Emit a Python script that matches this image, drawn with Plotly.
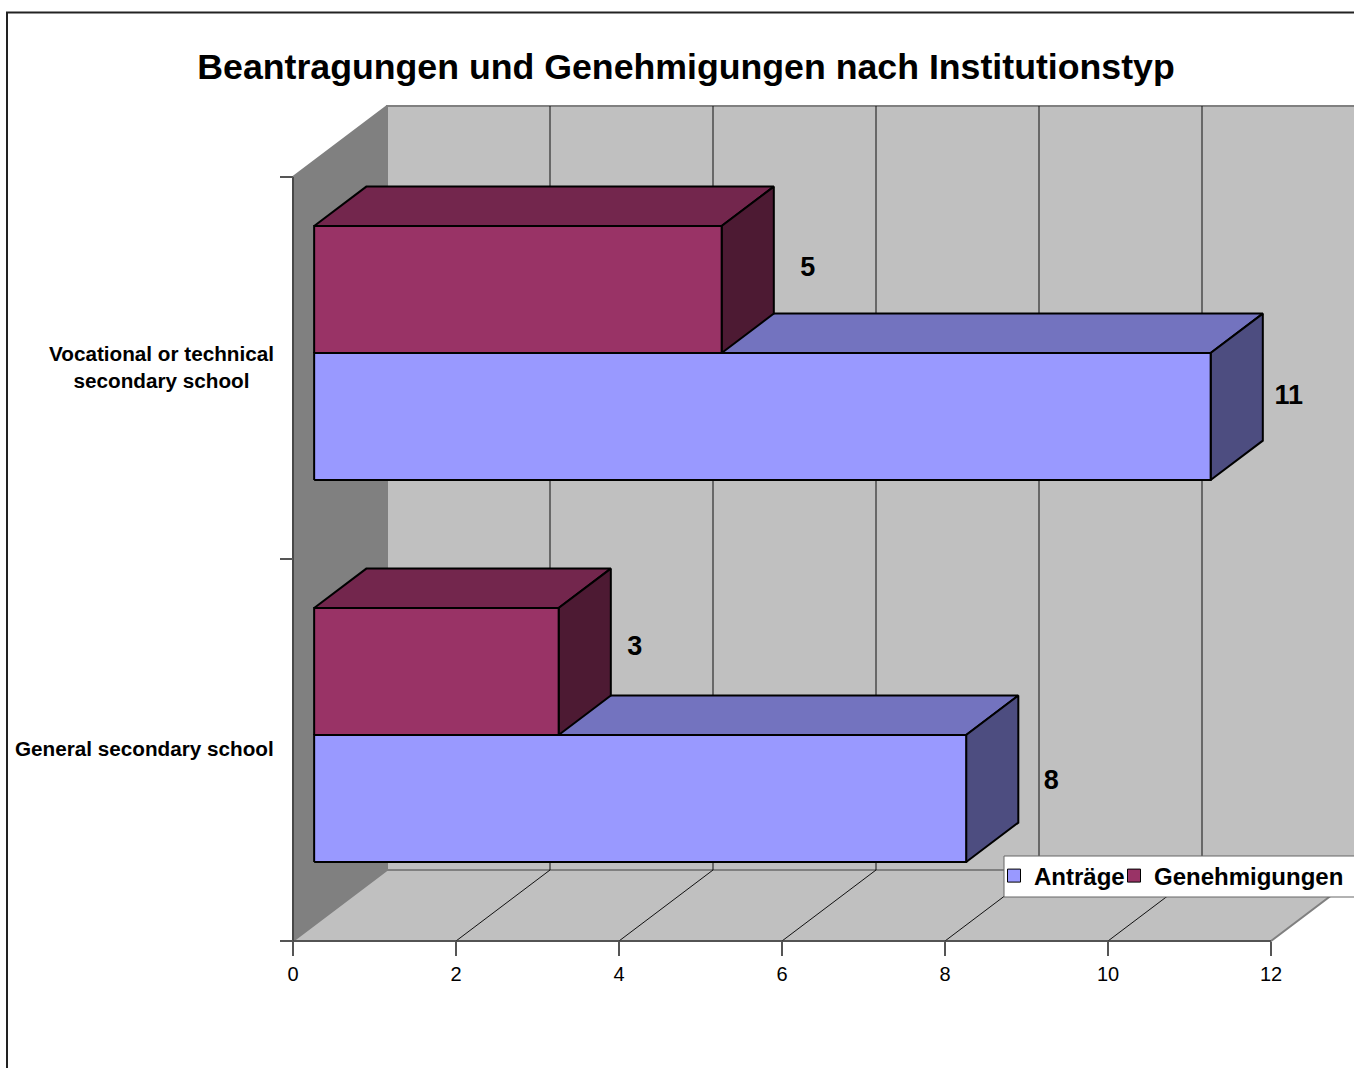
import plotly.graph_objects as go

# ---- data ----
categories = ["General secondary school", "Vocational or technical<br>secondary school"]
antraege = [8, 11]
genehmigungen = [3, 5]
x_ticks = [0, 2, 4, 6, 8, 10, 12]
title = "Beantragungen und Genehmigungen nach Institutionstyp"

# ---- layout constants (pixels) ----
W, H = 1354, 1068
X0, X_UNIT = 293, 81.5
Y0, Y_UNIT = 941, 382
DX, DY = 94 / X_UNIT, 71 / Y_UNIT      # oblique depth vector in data units
D_FRONT, D_BACK = 0.225, 0.78
GAP, THICK = 0.1649, 0.3325

BLUE = ("#9999FF", "#7373BF", "#4D4D80")
WINE = ("#993366", "#73264D", "#4D1A33")


def proj(x, y, d):
    return x + d * DX, y + d * DY


def face(fig, corners, fill, line="#000000", width=2):
    pts = [proj(*c) for c in corners]
    pts.append(pts[0])
    fig.add_trace(go.Scatter(x=[p[0] for p in pts], y=[p[1] for p in pts], mode="lines",
                             fill="toself", fillcolor=fill, line=dict(color=line, width=width),
                             hoverinfo="skip", showlegend=False))


def segment(fig, a, b, color="#111111", width=1):
    pa, pb = proj(*a), proj(*b)
    fig.add_trace(go.Scatter(x=[pa[0], pb[0]], y=[pa[1], pb[1]], mode="lines",
                             line=dict(color=color, width=width),
                             hoverinfo="skip", showlegend=False))


def bar(fig, value, y0, colors):
    y1 = y0 + THICK
    a, b = D_FRONT, D_BACK
    face(fig, [(0, y1, a), (value, y1, a), (value, y1, b), (0, y1, b)], colors[1])
    face(fig, [(value, y0, a), (value, y0, b), (value, y1, b), (value, y1, a)], colors[2])
    face(fig, [(0, y0, a), (value, y0, a), (value, y1, a), (0, y1, a)], colors[0])


fig = go.Figure()
xmax = x_ticks[-1]
ymax = len(categories)

# walls and floor
face(fig, [(0, 0, 1), (xmax, 0, 1), (xmax, ymax, 1), (0, ymax, 1)], "#C0C0C0", "#808080", 2)
face(fig, [(0, 0, 0), (0, 0, 1), (0, ymax, 1), (0, ymax, 0)], "#808080", "#808080", 2)
face(fig, [(0, 0, 0), (xmax, 0, 0), (xmax, 0, 1), (0, 0, 1)], "#C0C0C0", "#808080", 2)
for t in x_ticks[1:-1]:
    segment(fig, (t, 0, 1), (t, ymax, 1))
    segment(fig, (t, 0, 0), (t, 0, 1))
segment(fig, (0, 0, 0), (0, ymax, 0), "#111111", 1)
segment(fig, (0, 0, 0), (xmax, 0, 0), "#444444", 1.5)

# bars
for i in range(len(categories)):
    base = i + GAP
    bar(fig, antraege[i], base, BLUE)
    bar(fig, genehmigungen[i], base + THICK, WINE)

# value labels
shift_x = D_FRONT * DX
shift_y = D_FRONT * DY
label_dx = {"a": [85, 78], "g": [76, 86]}
label_dy = {"a": [-16, -19], "g": [-23, -20]}
lx, ly, lt = [], [], []
for i in range(len(categories)):
    base = i + GAP
    lx.append(antraege[i] + shift_x + label_dx["a"][i] / X_UNIT)
    ly.append(base + THICK / 2 + shift_y - label_dy["a"][i] / Y_UNIT)
    lt.append(str(antraege[i]))
    lx.append(genehmigungen[i] + shift_x + label_dx["g"][i] / X_UNIT)
    ly.append(base + THICK * 1.5 + shift_y - label_dy["g"][i] / Y_UNIT)
    lt.append(str(genehmigungen[i]))
fig.add_trace(go.Scatter(x=lx, y=ly, text=lt, mode="text", textposition="middle center",
                         textfont=dict(family="Liberation Sans", size=27, color="#000000", weight="bold"),
                         hoverinfo="skip", showlegend=False))

# legend entries: one native legend per series so each sits where the reference has it
for name, colors, lg in (("Anträge", BLUE, "legend"), ("Genehmigungen", WINE, "legend2")):
    fig.add_trace(go.Scatter(x=[None], y=[None], mode="markers", name=name, legend=lg,
                             marker=dict(symbol="square", size=13, color=colors[0],
                                         line=dict(color="#000000", width=1))))

legend_font = dict(family="Liberation Sans", size=24, color="#000000", weight="bold")

# category labels
annotations = [
    dict(x=(276 - X0) / X_UNIT, y=i + 0.5 + 1.5 / Y_UNIT, xref="x", yref="y", text=c, showarrow=False,
         xanchor="right", yanchor="middle", align="center",
         font=dict(family="Liberation Sans", size=20.7, color="#000000", weight="bold"))
    for i, c in enumerate(categories)
]

fig.update_layout(
    width=W, height=H, margin=dict(l=0, r=0, t=0, b=0, autoexpand=False), autosize=False,
    paper_bgcolor="#FFFFFF", plot_bgcolor="#FFFFFF",
    font=dict(family="Liberation Sans", color="#000000"),
    title=dict(text=title, x=686 / W, xanchor="center", y=1 - 67 / H, yanchor="middle",
               font=dict(family="Liberation Sans", size=35.7, color="#000000", weight="bold")),
    xaxis=dict(range=[-X0 / X_UNIT, (W - X0) / X_UNIT], domain=[0, 1], anchor="free",
               position=1 - Y0 / H, showgrid=False, zeroline=False, showline=False,
               tickmode="array", tickvals=x_ticks, ticktext=[str(t) for t in x_ticks],
               ticks="outside", ticklen=14, tickwidth=1.5, tickcolor="#555555", ticklabelstandoff=1,
               tickfont=dict(family="Liberation Sans", size=20, color="#000000")),
    yaxis=dict(range=[(Y0 - H) / Y_UNIT, Y0 / Y_UNIT], domain=[0, 1], anchor="free",
               position=X0 / W, showgrid=False, zeroline=False, showline=False,
               tickmode="array", tickvals=list(range(ymax + 1)), showticklabels=False,
               ticks="outside", ticklen=13, tickwidth=1.5, tickcolor="#555555"),
    legend=dict(x=(1034 - 40) / W, y=1 - 876 / H, xanchor="left", yanchor="middle",
                bgcolor="rgba(0,0,0,0)", borderwidth=0, itemwidth=30, font=legend_font),
    legend2=dict(x=(1154 - 40) / W, y=1 - 876 / H, xanchor="left", yanchor="middle",
                 bgcolor="rgba(0,0,0,0)", borderwidth=0, itemwidth=30, font=legend_font),
    annotations=annotations,
    shapes=[
        dict(type="rect", xref="paper", yref="paper", x0=1004 / W, x1=1.05, y0=1 - 897 / H, y1=1 - 856 / H,
             fillcolor="#FFFFFF", line=dict(color="#666666", width=1), layer="above"),
        dict(type="rect", xref="paper", yref="paper", x0=7 / W, x1=1.2, y0=-0.2, y1=1 - 12.5 / H,
             line=dict(color="#222222", width=2), layer="above"),
    ],
    hovermode=False,
)
fig.write_html("out.html", config={"displayModeBar": False},
               post_script="document.body.style.margin='0';")
